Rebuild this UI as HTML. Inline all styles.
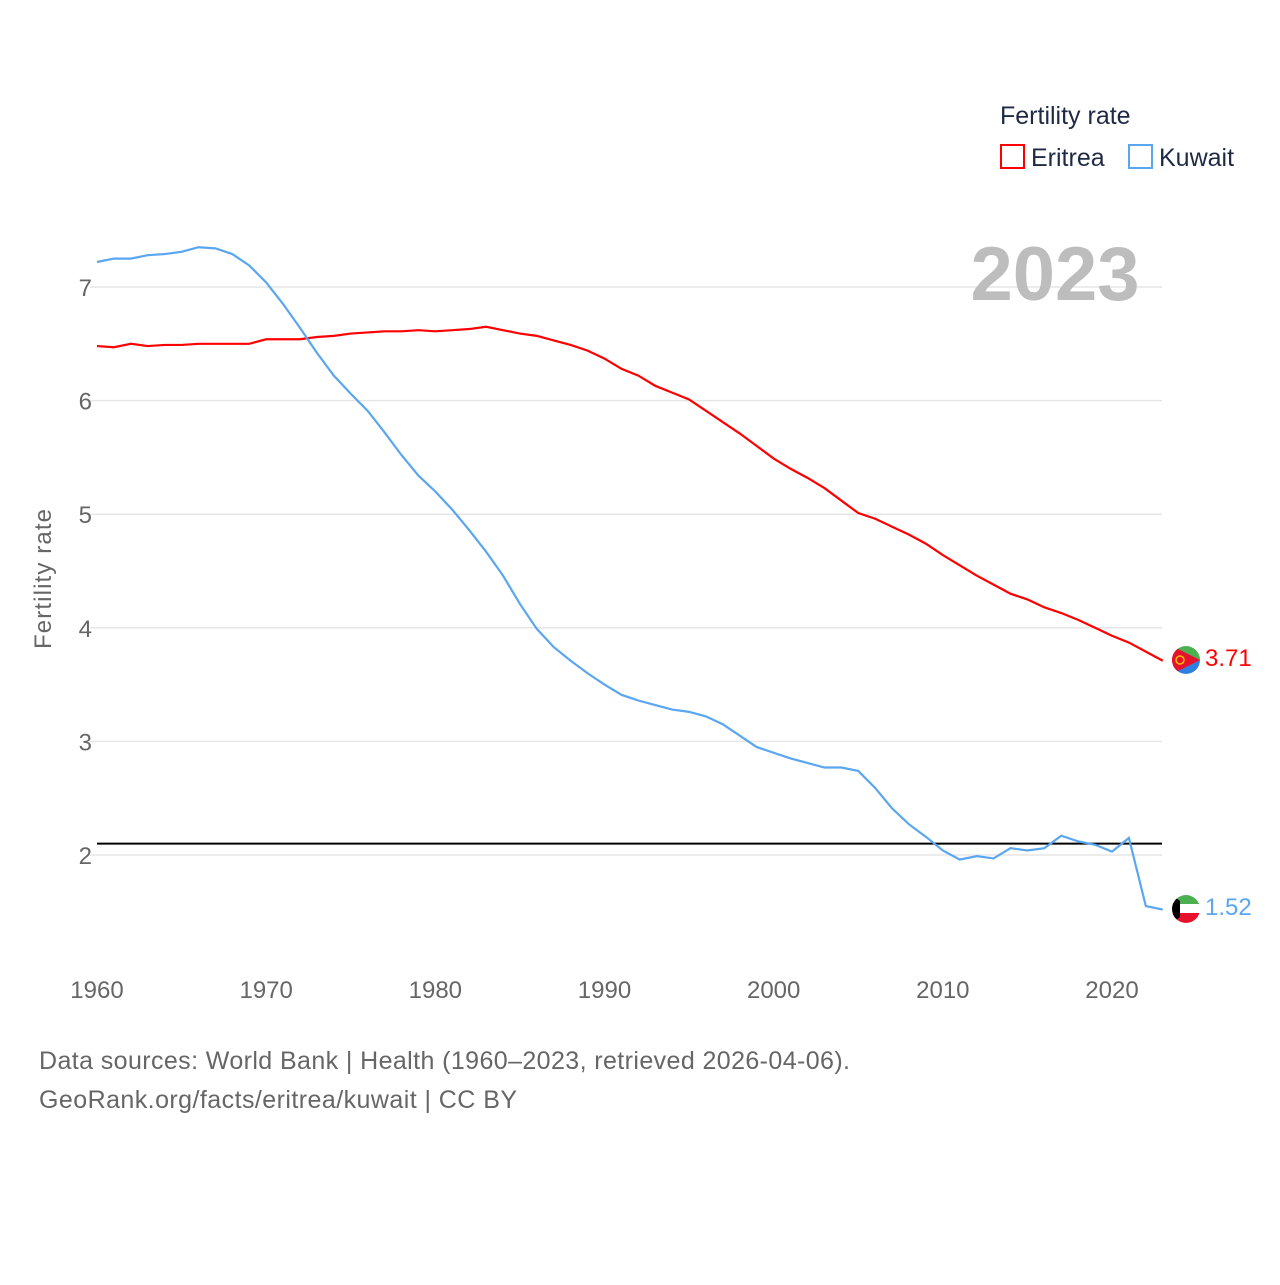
<!DOCTYPE html>
<html><head><meta charset="utf-8"><style>
html,body{margin:0;padding:0;background:#fff;}
body{width:1280px;height:1280px;overflow:hidden;font-family:"Liberation Sans",sans-serif;}
</style></head><body>
<svg width="1280" height="1280" viewBox="0 0 1280 1280">
<g id="grid"></g>
<g id="xticks"></g>
<text x="1055" y="300" text-anchor="middle" font-size="76" font-weight="bold" fill="#bdbdbd">2023</text>
<text transform="translate(51,579) rotate(-90)" text-anchor="middle" font-size="24" fill="#666" textLength="140">Fertility rate</text>
<line id="repl" stroke="#000" stroke-width="2"/>
<g id="series"></g>
<text x="1000" y="124" font-size="25" fill="#1e2a44">Fertility rate</text>
<g><rect x="1001" y="145" width="23" height="23" fill="none" stroke="#f00" stroke-width="2"/><text x="1031" y="166" font-size="25" fill="#1e2a44">Eritrea</text></g>
<g><rect x="1129" y="145" width="23" height="23" fill="none" stroke="#5aa6f0" stroke-width="2"/><text x="1159" y="166" font-size="25" fill="#1e2a44">Kuwait</text></g>
<g>
<clipPath id="ce"><circle cx="1186" cy="660" r="14"/></clipPath>
<g clip-path="url(#ce)"><rect x="1172" y="646" width="28" height="14" fill="#4caf50"/><rect x="1172" y="660" width="28" height="14" fill="#2f7fe0"/><polygon points="1172,646 1200,660 1172,674" fill="#e8112d"/><circle cx="1180" cy="660" r="4" fill="none" stroke="#f5c200" stroke-width="1.5"/></g></g>
<g>
<clipPath id="ck"><circle cx="1186" cy="909" r="14"/></clipPath>
<g clip-path="url(#ck)"><rect x="1172" y="895" width="28" height="10" fill="#4caf50"/><rect x="1172" y="904" width="28" height="10" fill="#fff"/><rect x="1172" y="913" width="28" height="10" fill="#e8112d"/><polygon points="1172,895 1180,901 1180,917 1172,923" fill="#000"/></g></g>
<text id="lblE" x="1205" y="666" font-size="24" fill="#f00">3.71</text>
<text id="lblK" x="1205" y="915" font-size="24" fill="#5aa6f0">1.52</text>
<text x="39" y="1069" font-size="25" fill="#666" textLength="811">Data sources: World Bank | Health (1960–2023, retrieved 2026-04-06).</text>
<text x="39" y="1108" font-size="25" fill="#666" textLength="478">GeoRank.org/facts/eritrea/kuwait | CC BY</text>
</svg>
<script>
const years = []; for (let y = 1960; y <= 2023; y++) years.push(y);
const eritrea = [6.48,6.47,6.50,6.48,6.49,6.49,6.50,6.50,6.50,6.50,6.54,6.54,6.54,6.56,6.57,6.59,6.60,6.61,6.61,6.62,6.61,6.62,6.63,6.65,6.62,6.59,6.57,6.53,6.49,6.44,6.37,6.28,6.22,6.13,6.07,6.01,5.91,5.81,5.71,5.60,5.49,5.40,5.32,5.23,5.12,5.01,4.96,4.89,4.82,4.74,4.64,4.55,4.46,4.38,4.30,4.25,4.18,4.13,4.07,4.00,3.93,3.87,3.79,3.71];
const kuwait = [7.22,7.25,7.25,7.28,7.29,7.31,7.35,7.34,7.29,7.19,7.04,6.85,6.64,6.42,6.22,6.06,5.91,5.72,5.52,5.34,5.20,5.04,4.86,4.67,4.46,4.21,3.99,3.83,3.71,3.60,3.50,3.41,3.36,3.32,3.28,3.26,3.22,3.15,3.05,2.95,2.90,2.85,2.81,2.77,2.77,2.74,2.59,2.41,2.27,2.16,2.04,1.96,1.99,1.97,2.06,2.04,2.06,2.17,2.12,2.09,2.03,2.15,1.55,1.52];
const yTicks = [2,3,4,5,6,7];
const xTicks = [1960,1970,1980,1990,2000,2010,2020];
const replacement = 2.1;
const NS = "http://www.w3.org/2000/svg";
const xs = v => 97 + (v - 1960) * (1015 / 60);
const ys = v => 855 - (v - 2) * 113.6;
const grid = document.getElementById('grid');
yTicks.forEach(t => {
  const l = document.createElementNS(NS, 'line');
  l.setAttribute('x1', 90); l.setAttribute('x2', 1162);
  l.setAttribute('y1', ys(t)); l.setAttribute('y2', ys(t));
  l.setAttribute('stroke', '#e6e6e6'); l.setAttribute('stroke-width', 1.5);
  
  
  grid.appendChild(l);
  const tx = document.createElementNS(NS, 'text');
  tx.setAttribute('x', 92); tx.setAttribute('y', ys(t) + 9);
  tx.setAttribute('text-anchor', 'end'); tx.setAttribute('font-size', 24); tx.setAttribute('fill', '#666');
  tx.textContent = t;
  
  
  grid.appendChild(tx);
});
const xt = document.getElementById('xticks');
xTicks.forEach(t => {
  const tx = document.createElementNS(NS, 'text');
  tx.setAttribute('x', xs(t)); tx.setAttribute('y', 998);
  tx.setAttribute('text-anchor', 'middle'); tx.setAttribute('font-size', 24); tx.setAttribute('fill', '#666');
  tx.textContent = t;
  
  
  xt.appendChild(tx);
});
const r = document.getElementById('repl');
r.setAttribute('x1', 97); r.setAttribute('x2', 1162);
r.setAttribute('y1', ys(replacement)); r.setAttribute('y2', ys(replacement));
const sg = document.getElementById('series');
function line(vals, color, name) {
  const p = document.createElementNS(NS, 'polyline');
  p.setAttribute('points', vals.map((v, i) => xs(years[i]) + ',' + ys(v)).join(' '));
  p.setAttribute('fill', 'none'); p.setAttribute('stroke', color); p.setAttribute('stroke-width', 2.2);
  
  
  sg.appendChild(p);
}
line(eritrea, '#f00', 'eritrea-line');
line(kuwait, '#5aa6f0', 'kuwait-line');
document.getElementById('lblE').textContent = eritrea[eritrea.length - 1].toFixed(2);
document.getElementById('lblK').textContent = kuwait[kuwait.length - 1].toFixed(2);
</script>
</body></html>
